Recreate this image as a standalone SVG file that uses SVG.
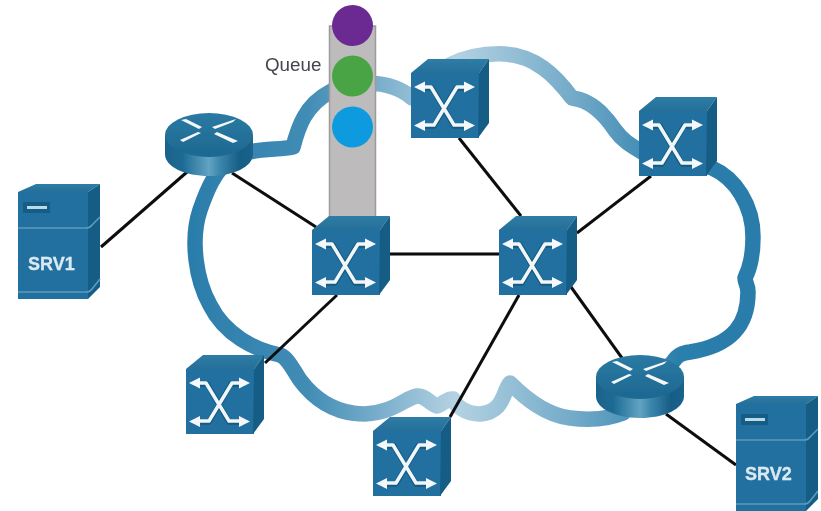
<svg xmlns="http://www.w3.org/2000/svg" xmlns:xlink="http://www.w3.org/1999/xlink" width="821" height="511" viewBox="0 0 821 511">
<style>
.lnk{stroke:#0b0b0b;stroke-width:3;fill:none}
.front{fill:#20709f}
.top{fill:url(#topG)}
.side{fill:#175d86}
.ws{fill:none;stroke:#145a82;stroke-width:5.400;stroke-linejoin:round}
.wl{fill:none;stroke:#f1f6f9;stroke-width:3.500;stroke-linejoin:round}
.wa{fill:#f4f8fb}
.srvt{font-family:"Liberation Sans",Arial,sans-serif;font-weight:700;font-size:18px;fill:#dbeaf2;stroke:#dbeaf2;stroke-width:0.3}
.sep{fill:none;stroke:#5a9cc0;stroke-width:1.600}
</style>
<defs>
<filter id="soft" x="0" y="0" width="100%" height="100%"><feGaussianBlur stdDeviation="0.45"/></filter>
<linearGradient id="cloudG" gradientUnits="userSpaceOnUse" x1="190" y1="0" x2="720" y2="0">
<stop offset="0" stop-color="#2b7dab"/><stop offset="0.22" stop-color="#418cb5"/><stop offset="0.5" stop-color="#b4d2e2"/><stop offset="0.72" stop-color="#74abc9"/><stop offset="0.92" stop-color="#2c7fac"/><stop offset="1" stop-color="#2a7dab"/>
</linearGradient>
<linearGradient id="topG" x1="0" y1="0" x2="0" y2="1"><stop offset="0" stop-color="#2f7da6"/><stop offset="1" stop-color="#256f99"/></linearGradient>
<linearGradient id="rtrBody" x1="0" y1="0" x2="1" y2="0">
<stop offset="0" stop-color="#19628c"/><stop offset="0.2" stop-color="#1d6b95"/><stop offset="0.5" stop-color="#62a3c3"/><stop offset="0.62" stop-color="#3c87ad"/><stop offset="0.85" stop-color="#175d86"/><stop offset="1" stop-color="#1a638c"/>
</linearGradient>
<linearGradient id="rtrTop" x1="0" y1="0" x2="0" y2="1"><stop offset="0" stop-color="#2b7aa3"/><stop offset="1" stop-color="#1c6890"/></linearGradient>
<g id="swIcon">
<polygon class="top" points="0,14 17,0 78,0 68,14"/>
<rect class="front" x="0" y="14" width="68" height="65"/>
<polygon class="side" points="68,14 78,0 78,64 67,79"/>
<path class="ws" d="M8,29 H21 L43,67 H58"/>
<path class="ws" d="M58,29 H45 L23,67 H8"/>
<path class="wl" d="M8,28 H20 L43,66 H58"/>
<path class="wl" d="M58,28 H46 L23,66 H8"/>
<polygon class="wa" points="3,28 14,22.500 14,33.500"/>
<polygon class="wa" points="64,28 53,22.500 53,33.500"/>
<polygon class="wa" points="3,66.500 14,61 14,72"/>
<polygon class="wa" points="64,66.500 53,61 53,72"/>
</g>
<g id="rtrIcon">
<path d="M0,22 V41 C0,54 20,63 44,63 C68,63 88,54 88,41 V22 Z" fill="url(#rtrBody)"/>
<ellipse cx="44" cy="22" rx="44" ry="22" fill="url(#rtrTop)"/>
<polygon class="wa" points="16,7 21,6 37,14 34,16"/>
<polygon class="wa" points="71,6 68,9 50,16 47,14"/>
<polygon class="wa" points="18,29 15,27 33,19 36,20"/>
<polygon class="wa" points="73,28 68,30 49,21 52,19"/>
</g>
<g id="srvIcon">
<polygon class="top" points="0,8 18,0 82,0 70,8"/>
<rect class="front" x="0" y="8" width="70" height="107"/>
<polygon class="side" points="70,8 82,0 82,103 70,115"/>
<path class="sep" d="M0,44 H68 Q72,44 74,41 L82,33"/>
<path class="sep" d="M0,108 H68 Q72,108 74,105 L82,95"/>
<rect x="5" y="18" width="27" height="11" fill="#175d86"/>
<rect x="9" y="22" width="20" height="3" fill="#bcd9e7"/>
</g>
</defs>
<rect width="821" height="511" fill="#ffffff"/>
<g filter="url(#soft)">
<g id="cloud">
<path fill="none" stroke="url(#cloudG)" stroke-width="15.500" stroke-linejoin="round" d="M250,152 C268,148 280,150 293,147 C298,128 305,105 330,92 C345,80 390,78 412,98 C430,70 465,52 505,54 C535,56 555,75 572,98 C590,100 605,115 615,130 C622,140 630,145 642,152 C670,165 690,160 712,168 C735,178 753,205 753,237 C753,255 750,268 745,278 C745,283 748,285 748,292 C748,322 735,345 690,352 C682,353 677,355 673,362 L623,413 C605,420 585,420 570,418 C545,415 525,398 510,383 C503,390 505,412 480,414 C465,414 455,405 453,399 C447,398 442,405 437,406 C430,404 425,395 417,396 C405,398 395,412 365,414 C335,414 315,400 300,380 C292,368 288,358 280,355 C255,350 225,335 210,305 C196,280 190,240 200,210 C207,190 215,170 232,158"/>
</g>
<g id="queue">
<rect x="329.500" y="26" width="46" height="195" fill="#bdbbbb" stroke="#9b9b9b" stroke-width="1.500"/>
<circle cx="352.500" cy="25.500" r="20.500" fill="#6a2c91"/>
<circle cx="352.500" cy="76" r="20.500" fill="#4aa444"/>
<circle cx="352.500" cy="127" r="20.500" fill="#0d9ade"/>
<text x="265" y="71" font-family="'Liberation Sans',Arial,sans-serif" font-size="18.800" fill="#45454d">Queue</text>
</g>
<g id="connectors">
<line class="lnk" x1="101" y1="247" x2="187" y2="172"/>
<line class="lnk" x1="232" y1="173" x2="316" y2="227"/>
<line class="lnk" x1="390" y1="254" x2="499" y2="254"/>
<line class="lnk" x1="337" y1="295" x2="265" y2="363"/>
<line class="lnk" x1="459" y1="138" x2="521" y2="216"/>
<line class="lnk" x1="577" y1="233" x2="651" y2="176"/>
<line class="lnk" x1="571" y1="287" x2="622" y2="358"/>
<line class="lnk" x1="519" y1="295" x2="450" y2="417"/>
<line class="lnk" x1="666" y1="414" x2="736" y2="465"/>
</g>
<g id="sw-center-left"><use href="#swIcon" x="312" y="216"/></g>
<g id="sw-center-right"><use href="#swIcon" x="499" y="216"/></g>
<g id="sw-top"><use href="#swIcon" x="411" y="59"/></g>
<g id="sw-top-right"><use href="#swIcon" x="639" y="97"/></g>
<g id="sw-bottom-left"><use href="#swIcon" x="186" y="355"/></g>
<g id="sw-bottom"><use href="#swIcon" x="373" y="417"/></g>
<g id="router-1"><use href="#rtrIcon" x="165" y="113"/></g>
<g id="router-2"><use href="#rtrIcon" x="596" y="355"/></g>
<g id="srv1"><use href="#srvIcon" x="18" y="184"/><text class="srvt" x="28" y="270">SRV1</text></g>
<g id="srv2"><use href="#srvIcon" x="736" y="396"/><text class="srvt" x="745" y="480">SRV2</text></g>
</g>
</svg>
